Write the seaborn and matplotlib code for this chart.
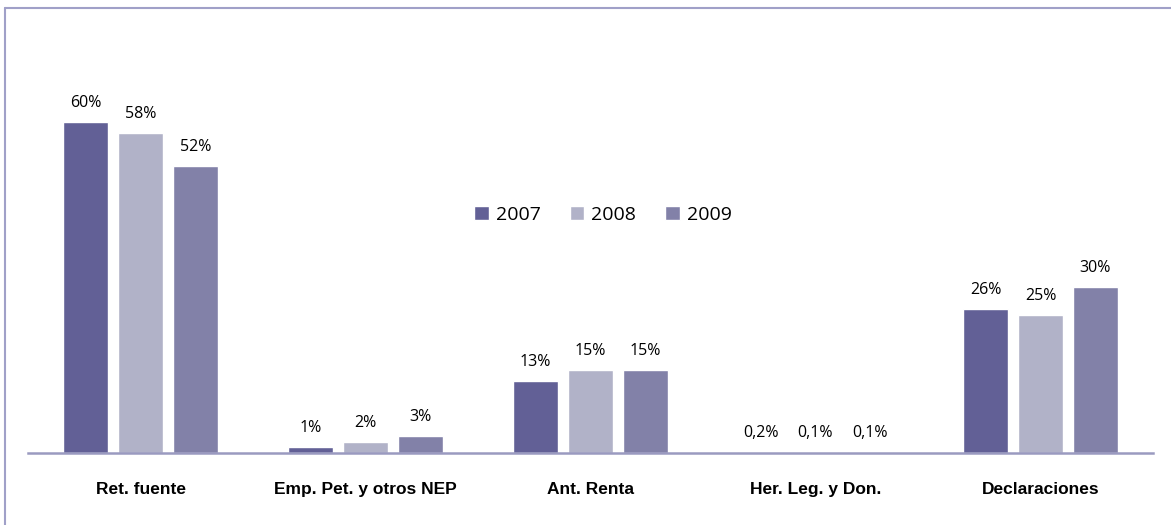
import pandas as pd
import seaborn as sns
import matplotlib.pyplot as plt
from matplotlib.lines import Line2D

sns.set_theme(style="white")

# Datos
categorias = ["Ret. fuente", "Emp. Pet. y otros NEP", "Ant. Renta", "Her. Leg. y Don.", "Declaraciones"]
anios = ["2007", "2008", "2009"]
v2007 = [60, 1, 13, 0.2, 26]
v2008 = [58, 2, 15, 0.1, 25]
v2009 = [52, 3, 15, 0.1, 30]
colores = ["#626096", "#B1B2C8", "#8281A8"]

df = pd.DataFrame({
    "categoria": categorias * 3,
    "anio": [a for a in anios for _ in categorias],
    "valor": v2007 + v2008 + v2009,
})

fig = plt.figure(figsize=(11.71, 5.25), dpi=100)
ax = fig.add_axes([28 / 1171, 1 - 453 / 525, 1125 / 1171, 414 / 525])

sns.barplot(data=df, x="categoria", y="valor", hue="anio", palette=colores,
            width=0.733, gap=0.17, ax=ax, saturation=1, legend=True)

def fmt(v):
    if v < 1:
        return f"{v:.1f}".replace(".", ",") + "%"
    return f"{v:.0f}%"

for cont in ax.containers:
    for rect, v in zip(cont, cont.datavalues):
        ax.annotate(fmt(v), (rect.get_x() + rect.get_width() / 2, rect.get_height()),
                    xytext=(0, 8), textcoords="offset points", ha="center", va="bottom",
                    fontsize=11.5, family=["Open Sans", "DejaVu Sans"], color="black")

ax.set_xlim(-0.5, 4.5)
ax.set_ylim(0, 75)
ax.set_xlabel("")
ax.set_ylabel("")
ax.set_yticks([])
ax.tick_params(axis="x", length=0, pad=21, colors="black")
for lbl in ax.get_xticklabels():
    lbl.set_fontweight("bold")
    lbl.set_fontsize(12.5)
    lbl.set_family(["Liberation Sans Narrow", "Liberation Sans", "DejaVu Sans"])
for s in ["top", "right", "left"]:
    ax.spines[s].set_visible(False)
ax.spines["bottom"].set_color("#9A9AC0")
ax.spines["bottom"].set_linewidth(1.8)

leg = ax.legend(loc="center", bbox_to_anchor=(603 / 1171, 1 - 215 / 525),
                bbox_transform=fig.transFigure, ncol=3, frameon=False,
                handlelength=0.75, handleheight=0.75, handletextpad=0.35, columnspacing=1.5,
                prop={"family": ["Open Sans", "DejaVu Sans"], "size": 14})
for t in leg.get_texts():
    t.set_color("black")

# marco exterior
fig.add_artist(Line2D([5 / 1171, 1], [1 - 8 / 525, 1 - 8 / 525], transform=fig.transFigure,
                      color="#A0A0C8", lw=1.5))
fig.add_artist(Line2D([5 / 1171, 5 / 1171], [0, 1 - 8 / 525], transform=fig.transFigure,
                      color="#A0A0C8", lw=1.5))

fig.savefig("out.png", dpi=100)
